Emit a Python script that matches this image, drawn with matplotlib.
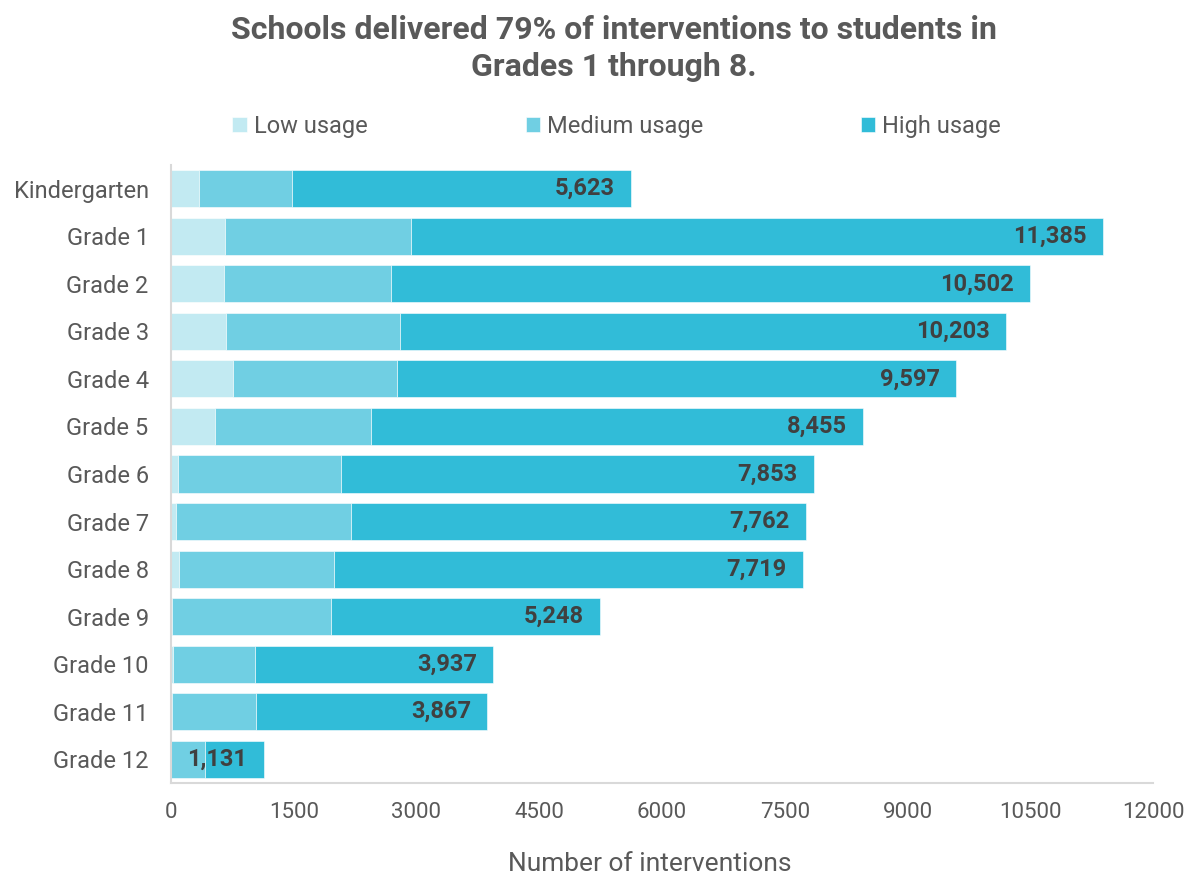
import matplotlib
matplotlib.use("Agg")
import matplotlib.pyplot as plt
import numpy as np

# interventions per grade, split by usage level
grades = ["Kindergarten", "Grade 1", "Grade 2", "Grade 3", "Grade 4", "Grade 5",
          "Grade 6", "Grade 7", "Grade 8", "Grade 9", "Grade 10", "Grade 11", "Grade 12"]
low_usage = [338, 660, 652, 672, 758, 538, 90, 57, 102, 15, 20, 10, 5]
medium_usage = [1141, 2273, 2033, 2126, 2000, 1906, 1987, 2143, 1890, 1940, 1006, 1025, 410]
totals = [5623, 11385, 10502, 10203, 9597, 8455, 7853, 7762, 7719, 5248, 3937, 3867, 1131]
high_usage = [t - l - m for t, l, m in zip(totals, low_usage, medium_usage)]

series_names = ["Low usage", "Medium usage", "High usage"]
colors = ["#C2EAF2", "#70CFE3", "#31BCD8"]
text_grey = "#595959"

plt.rcParams["font.family"] = ["Roboto", "DejaVu Sans"]

fig = plt.figure(figsize=(11.88, 8.74), dpi=100)
ax = fig.add_axes([0.1439, 0.1041, 0.8266, 0.7071])

y = np.arange(len(grades))
left = np.zeros(len(grades))
for vals, name, c in zip([low_usage, medium_usage, high_usage], series_names, colors):
    ax.barh(y, vals, left=left, height=0.78, color=c, label=name,
            edgecolor="white", linewidth=0.4)
    left += np.array(vals)

# total labels at the right end of each bar
for yi, t in zip(y, totals):
    ax.text(t - 200, yi, f"{t:,}", ha="right", va="center",
            fontsize=17, fontweight="bold", color="#404040")

ax.set_xlim(0, 12000)
ax.set_ylim(12.5, -0.5)
ax.set_xticks(np.arange(0, 12001, 1500))
ax.set_yticks(y)
ax.set_yticklabels(grades)
ax.tick_params(axis="x", length=0, labelsize=16, colors=text_grey, pad=14)
ax.tick_params(axis="y", length=0, labelsize=17, colors=text_grey, pad=16)

for side in ["top", "right"]:
    ax.spines[side].set_visible(False)
for side in ["left", "bottom"]:
    ax.spines[side].set_color("#D9D9D9")
    ax.spines[side].set_linewidth(1.5)

ax.set_xlabel("Number of interventions", fontsize=19, color=text_grey)
ax.xaxis.set_label_coords(0.488, -0.111)

fig.suptitle("Schools delivered 79% of interventions to students in\nGrades 1 through 8.",
             x=0.517, y=0.983, fontsize=23, fontweight="bold", color=text_grey,
             linespacing=1.3)

leg = ax.legend(loc="center", bbox_to_anchor=(0.454, 1.062), ncol=3, frameon=False,
                fontsize=17, handlelength=0.6, handleheight=0.6, handletextpad=0.3,
                columnspacing=6.7)
for txt in leg.get_texts():
    txt.set_color(text_grey)

fig.savefig("out.png", dpi=100)
